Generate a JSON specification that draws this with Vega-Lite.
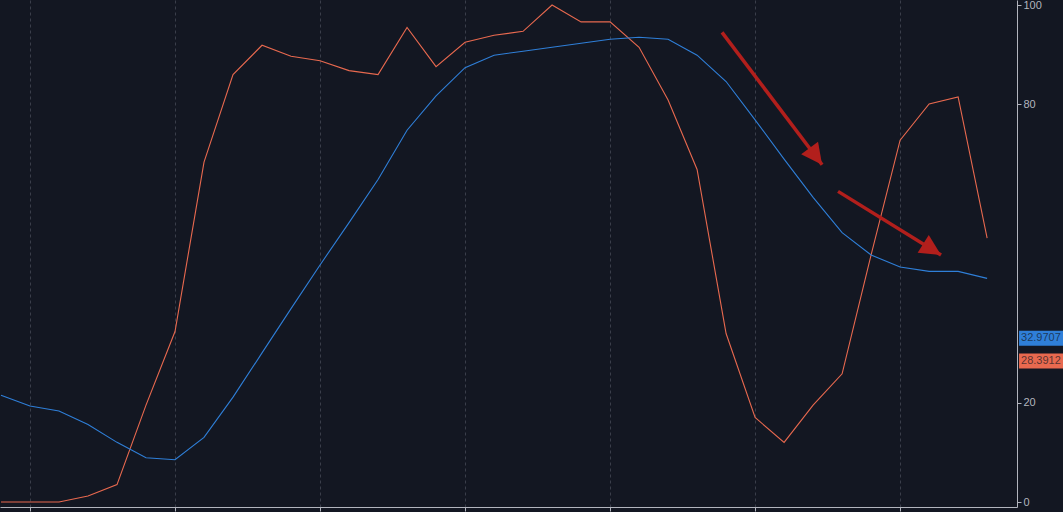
{
  "$schema": "https://vega.github.io/schema/vega-lite/v6.json",
  "width": 1017,
  "height": 507,
  "autosize": {"type": "none"},
  "padding": {"left": 0, "top": 0, "right": 46, "bottom": 5},
  "background": "#131722",
  "config": {"view": {"stroke": null}, "font": "Liberation Sans"},
  "datasets": {
    "osc": [
      {"i": 0, "series": "fast", "v": 0}, {"i": 1, "series": "fast", "v": 0},
      {"i": 2, "series": "fast", "v": 0}, {"i": 3, "series": "fast", "v": 1.2},
      {"i": 4, "series": "fast", "v": 3.5}, {"i": 5, "series": "fast", "v": 19.5},
      {"i": 6, "series": "fast", "v": 34.3}, {"i": 7, "series": "fast", "v": 68.4},
      {"i": 8, "series": "fast", "v": 86.0}, {"i": 9, "series": "fast", "v": 91.9},
      {"i": 10, "series": "fast", "v": 89.7}, {"i": 11, "series": "fast", "v": 88.8},
      {"i": 12, "series": "fast", "v": 86.8}, {"i": 13, "series": "fast", "v": 86.0},
      {"i": 14, "series": "fast", "v": 95.5}, {"i": 15, "series": "fast", "v": 87.6},
      {"i": 16, "series": "fast", "v": 92.5}, {"i": 17, "series": "fast", "v": 93.9},
      {"i": 18, "series": "fast", "v": 94.7}, {"i": 19, "series": "fast", "v": 100},
      {"i": 20, "series": "fast", "v": 96.6}, {"i": 21, "series": "fast", "v": 96.6},
      {"i": 22, "series": "fast", "v": 91.5}, {"i": 23, "series": "fast", "v": 80.9},
      {"i": 24, "series": "fast", "v": 66.9}, {"i": 25, "series": "fast", "v": 33.9},
      {"i": 26, "series": "fast", "v": 17.0}, {"i": 27, "series": "fast", "v": 12.0},
      {"i": 28, "series": "fast", "v": 19.5}, {"i": 29, "series": "fast", "v": 25.8},
      {"i": 30, "series": "fast", "v": 49.7}, {"i": 31, "series": "fast", "v": 72.8},
      {"i": 32, "series": "fast", "v": 80.1}, {"i": 33, "series": "fast", "v": 81.5},
      {"i": 34, "series": "fast", "v": 53.1},
      {"i": 0, "series": "slow", "v": 21.5}, {"i": 1, "series": "slow", "v": 19.3},
      {"i": 2, "series": "slow", "v": 18.3}, {"i": 3, "series": "slow", "v": 15.6},
      {"i": 4, "series": "slow", "v": 12.0}, {"i": 5, "series": "slow", "v": 8.9},
      {"i": 6, "series": "slow", "v": 8.5}, {"i": 7, "series": "slow", "v": 13.0},
      {"i": 8, "series": "slow", "v": 21.1}, {"i": 9, "series": "slow", "v": 30.0},
      {"i": 10, "series": "slow", "v": 38.9}, {"i": 11, "series": "slow", "v": 47.7},
      {"i": 12, "series": "slow", "v": 56.2}, {"i": 13, "series": "slow", "v": 64.9},
      {"i": 14, "series": "slow", "v": 74.8}, {"i": 15, "series": "slow", "v": 81.7},
      {"i": 16, "series": "slow", "v": 87.4}, {"i": 17, "series": "slow", "v": 89.9},
      {"i": 18, "series": "slow", "v": 90.7}, {"i": 19, "series": "slow", "v": 91.5},
      {"i": 20, "series": "slow", "v": 92.3}, {"i": 21, "series": "slow", "v": 93.1},
      {"i": 22, "series": "slow", "v": 93.5}, {"i": 23, "series": "slow", "v": 93.1},
      {"i": 24, "series": "slow", "v": 89.9}, {"i": 25, "series": "slow", "v": 84.6},
      {"i": 26, "series": "slow", "v": 76.9}, {"i": 27, "series": "slow", "v": 69.0},
      {"i": 28, "series": "slow", "v": 61.3}, {"i": 29, "series": "slow", "v": 54.2},
      {"i": 30, "series": "slow", "v": 49.7}, {"i": 31, "series": "slow", "v": 47.3},
      {"i": 32, "series": "slow", "v": 46.4}, {"i": 33, "series": "slow", "v": 46.4},
      {"i": 34, "series": "slow", "v": 45.0}
    ],
    "arrows": [
      {"id": 1, "x0": 24.86, "y0": 94.5, "x1": 28.31, "y1": 67.85},
      {"id": 2, "x0": 28.86, "y0": 62.5, "x1": 32.41, "y1": 49.7}
    ],
    "lastvals": [
      {"series": "slow", "v": 32.9707, "label": "32.9707"},
      {"series": "fast", "v": 28.3912, "label": "28.3912"}
    ]
  },
  "layer": [
    {
      "data": {"name": "osc"},
      "mark": {"type": "line", "strokeWidth": 1.1, "interpolate": "linear"},
      "encoding": {
        "x": {
          "field": "i",
          "type": "quantitative",
          "scale": {"domain": [-0.034, 35.03], "nice": false, "zero": false},
          "axis": {
            "orient": "bottom",
            "values": [1, 6, 11, 16, 21, 26, 31],
            "labels": false,
            "title": null,
            "grid": true,
            "gridColor": "#3a3e4a",
            "gridDash": [3, 3],
            "gridWidth": 1,
            "domainColor": "#b2b5be",
            "tickColor": "#b2b5be",
            "tickSize": 4
          }
        },
        "y": {
          "field": "v",
          "type": "quantitative",
          "scale": {"domain": [0, 100], "nice": false, "zero": false},
          "axis": {
            "orient": "right",
            "values": [0, 20, 80, 100],
            "labelFlush": true,
            "title": null,
            "grid": false,
            "domainColor": "#b2b5be",
            "tickColor": "#b2b5be",
            "tickSize": 4,
            "labelColor": "#b2b5be",
            "labelFontSize": 11,
            "labelPadding": 2
          }
        },
        "color": {
          "field": "series",
          "type": "nominal",
          "scale": {"domain": ["fast", "slow"], "range": ["#e8694f", "#2f7fd8"]},
          "legend": null
        },
        "detail": {"field": "series"}
      }
    },
    {
      "data": {"name": "arrows"},
      "mark": {"type": "rule", "color": "#b21f1c", "strokeWidth": 3.5, "strokeCap": "butt"},
      "encoding": {
        "x": {"field": "x0", "type": "quantitative"},
        "y": {"field": "y0", "type": "quantitative"},
        "x2": {"field": "x1"},
        "y2": {"field": "y1"}
      }
    },
    {
      "data": {"name": "arrows"},
      "transform": [{"filter": "datum.id == 1"}],
      "mark": {"type": "point", "shape": "M0,0L-1.05,2.1L1.05,2.1Z", "size": 400, "filled": true, "color": "#b21f1c", "opacity": 1, "strokeWidth": 0, "angle": 143.5},
      "encoding": {
        "x": {"field": "x1", "type": "quantitative"},
        "y": {"field": "y1", "type": "quantitative"}
      }
    },
    {
      "data": {"name": "arrows"},
      "transform": [{"filter": "datum.id == 2"}],
      "mark": {"type": "point", "shape": "M0,0L-1.05,2.1L1.05,2.1Z", "size": 400, "filled": true, "color": "#b21f1c", "opacity": 1, "strokeWidth": 0, "angle": 122},
      "encoding": {
        "x": {"field": "x1", "type": "quantitative"},
        "y": {"field": "y1", "type": "quantitative"}
      }
    },
    {
      "data": {"name": "lastvals"},
      "mark": {"type": "bar", "height": 15, "clip": false, "opacity": 1},
      "encoding": {
        "x": {"datum": 35.1},
        "x2": {"datum": 36.62},
        "y": {"field": "v", "type": "quantitative"},
        "color": {"field": "series", "type": "nominal", "legend": null}
      }
    },
    {
      "data": {"name": "lastvals"},
      "mark": {"type": "text", "align": "left", "baseline": "middle", "fontSize": 11, "fill": "#131722", "fillOpacity": 0.7, "clip": false},
      "encoding": {
        "x": {"datum": 35.17},
        "y": {"field": "v", "type": "quantitative"},
        "text": {"field": "label"}
      }
    }
  ]
}
